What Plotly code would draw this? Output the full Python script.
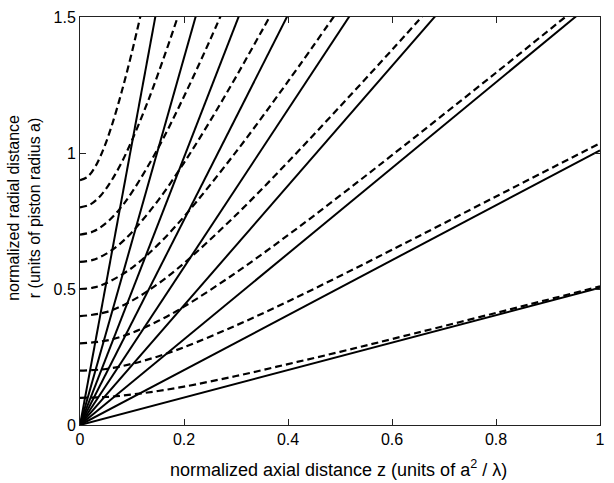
import plotly.graph_objects as go

solid_slopes = [0.505, 1.01, 1.575, 2.2, 2.9, 3.77, 4.92, 6.75, 10.36]

# dashed curves, one list per curve (starting radius 0.1 ... 0.9)
dashed_z = [
    [0, 0.05, 0.1, 0.15, 0.2, 0.3, 0.4, 0.5, 0.6, 0.8, 1.0],
    [0, 0.05, 0.1, 0.15, 0.2, 0.3, 0.4, 0.5, 0.6, 0.8, 1.0],
    [0, 0.05, 0.1, 0.15, 0.2, 0.3, 0.4, 0.5, 0.6, 0.8, 1.0],
    [0, 0.05, 0.1, 0.15, 0.2, 0.3, 0.4, 0.5, 0.6, 0.7],
    [0, 0.025, 0.05, 0.1, 0.15, 0.2, 0.3, 0.4, 0.5],
    [0, 0.025, 0.05, 0.075, 0.1, 0.15, 0.2, 0.25, 0.3, 0.35, 0.4],
    [0, 0.025, 0.05, 0.075, 0.1, 0.15, 0.2, 0.25, 0.3],
    [0, 0.02, 0.04, 0.06, 0.08, 0.1, 0.13, 0.16, 0.19, 0.2],
    [0, 0.015, 0.03, 0.045, 0.06, 0.08, 0.1, 0.12],
]
dashed_r = [
    [0.1, 0.103, 0.112, 0.125, 0.141, 0.18, 0.224, 0.269, 0.316, 0.412, 0.51],
    [0.2, 0.206, 0.225, 0.252, 0.286, 0.366, 0.454, 0.548, 0.644, 0.84, 1.036],
    [0.3, 0.31, 0.339, 0.382, 0.435, 0.56, 0.698, 0.843, 0.992, 1.295, 1.603],
    [0.4, 0.415, 0.457, 0.519, 0.595, 0.772, 0.967, 1.171, 1.379, 1.591],
    [0.5, 0.505, 0.521, 0.578, 0.663, 0.766, 1.004, 1.263, 1.534],
    [0.6, 0.607, 0.629, 0.663, 0.709, 0.825, 0.964, 1.117, 1.28, 1.45, 1.623],
    [0.7, 0.711, 0.742, 0.791, 0.856, 1.017, 1.208, 1.415, 1.634],
    [0.8, 0.811, 0.844, 0.897, 0.965, 1.047, 1.187, 1.344, 1.512, 1.57],
    [0.9, 0.913, 0.952, 1.014, 1.094, 1.224, 1.372, 1.535],
]

x_ticks = [0, 0.2, 0.4, 0.6, 0.8, 1]
x_tick_text = ["0", "0.2", "0.4", "0.6", "0.8", "1"]
y_ticks = [0, 0.5, 1, 1.5]
y_tick_text = ["0", "0.5", "1", "1.5"]

FONT = "Liberation Sans, Arial, Helvetica"

fig = go.Figure()

for s in solid_slopes:
    fig.add_trace(go.Scatter(
        x=[0, 1], y=[0, s],
        mode="lines",
        line=dict(color="black", width=2),
        showlegend=False, hoverinfo="skip"
    ))

for zs, rs in zip(dashed_z, dashed_r):
    fig.add_trace(go.Scatter(
        x=zs, y=rs,
        mode="lines",
        line=dict(color="black", width=2.2, dash="7px,4px", shape="spline"),
        showlegend=False, hoverinfo="skip"
    ))

axis_style = dict(
    showgrid=False, zeroline=False,
    showline=True, linecolor="#222", linewidth=1,
    mirror="ticks", ticks="inside", ticklen=6, tickcolor="#222",
    tickfont=dict(family=FONT, size=16, color="black"),
)

fig.update_layout(
    width=614, height=483,
    margin=dict(l=80, r=9, t=12, b=58),
    plot_bgcolor="white", paper_bgcolor="white",
    xaxis=dict(range=[0, 1], tickvals=x_ticks, ticktext=x_tick_text, **axis_style),
    yaxis=dict(range=[0, 1.5], tickvals=y_ticks, ticktext=y_tick_text, **axis_style),
    showlegend=False,
)

fig.add_annotation(
    text="normalized axial distance z (units of a<sup>2</sup> / λ)",
    xref="paper", yref="paper", x=0.497, y=-0.107,
    xanchor="center", yanchor="middle", showarrow=False,
    font=dict(family=FONT, size=18, color="black")
)
fig.add_annotation(
    text="normalized radial distance<br>r (units of piston radius a)",
    xref="paper", yref="paper", x=-0.109, y=0.533,
    xanchor="center", yanchor="middle", showarrow=False, textangle=-90,
    font=dict(family=FONT, size=16, color="black")
)

# drop the default page margin so the 614x483 figure fills the window exactly
fig.write_html(
    "out.html",
    config={"displayModeBar": False},
    post_script="document.body.style.margin='0';",
)
